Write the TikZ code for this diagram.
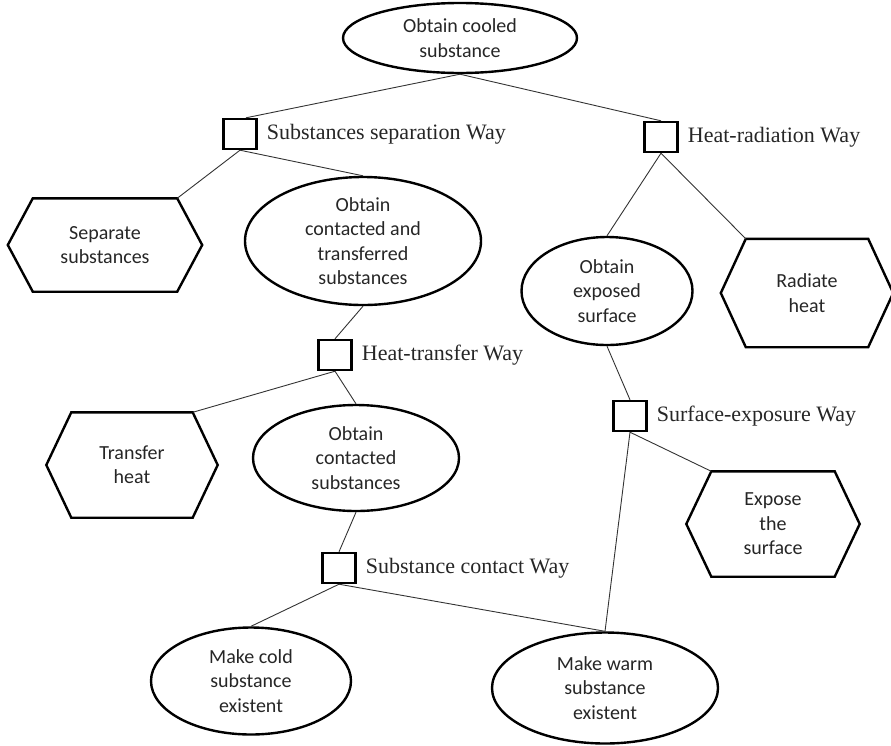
\documentclass[tikz,border=0pt]{standalone}
\usepackage{fontspec}
\setmainfont{Liberation Serif}
\newfontfamily\goalfont{Carlito}
\usepackage{tikz}
\usetikzlibrary{positioning}
\usetikzlibrary{shapes.geometric}

\tikzset{
  goal/.style={ellipse, draw, line width=2.4pt, inner sep=0pt, align=center,
               text=black!85, font=\goalfont\fontsize{20}{24.4}\selectfont},
  act/.style={rectangle, inner sep=0pt, align=center,
              text=black!85, font=\goalfont\fontsize{20}{24.4}\selectfont},
  way/.style={rectangle, draw, line width=2.4pt, minimum width=33pt, minimum height=30pt},
  waylbl/.style={inner sep=0pt, text=black!85, font=\fontsize{22}{26}\selectfont},
  link/.style={line width=0.9pt, black!80},
  hexline/.style={line width=2.4pt, line join=miter},
}

\begin{document}
\begin{tikzpicture}[x=1pt,y=-1pt]
\useasboundingbox (0,0) rectangle (891,745);
\node[goal, minimum width=234pt, minimum height=70pt] (cool) at (460,38) {Obtain cooled\\substance};
\node[way] (sepway) at (240,134) {};
\node[waylbl, right=9pt of sepway] (sepwaylbl) {Substances separation Way};
\node[way] (radway) at (661,137) {};
\node[waylbl, right=9pt of radway] (radwaylbl) {Heat-radiation Way};
% left branch
\node[act, minimum width=194pt, minimum height=93pt] (sep) at (105,245) {Separate\\substances};
\node[goal, minimum width=236pt, minimum height=128pt] (ctsub) at (363,241) {Obtain\\contacted and\\transferred\\substances};
\node[way] (heatway) at (335,355) {};
\node[waylbl, right=9pt of heatway] (heatwaylbl) {Heat-transfer Way};
\node[act, minimum width=171pt, minimum height=105pt] (heat) at (132,465) {Transfer\\heat};
\node[goal, minimum width=206pt, minimum height=106pt] (csub) at (356,458) {Obtain\\contacted\\substances};
\node[way] (contway) at (339,568) {};
\node[waylbl, right=9pt of contway] (contwaylbl) {Substance contact Way};
\node[goal, minimum width=200pt, minimum height=107pt] (cold) at (251,681) {Make cold\\substance\\existent};
\node[goal, minimum width=226pt, minimum height=111pt] (warm) at (605,688) {Make warm\\substance\\existent};
% right branch
\node[goal, minimum width=171pt, minimum height=108pt] (expsurf) at (607,291) {Obtain\\exposed\\surface};
\node[act, minimum width=172pt, minimum height=108pt] (rad) at (807,293) {Radiate\\heat};
\node[way] (surfway) at (630,416) {};
\node[waylbl, right=9pt of surfway] (surfwaylbl) {Surface-exposure Way};
\node[act, minimum width=173pt, minimum height=105pt] (expo) at (773,524) {Expose\\the\\surface};

\foreach \n in {sep,heat,rad,expo}
  \draw[hexline] (\n.west) -- ([xshift=25pt]\n.north west) -- ([xshift=-25pt]\n.north east)
    -- (\n.east) -- ([xshift=-25pt]\n.south east) -- ([xshift=25pt]\n.south west) -- cycle;

\draw[link] (cool.south) -- ([xshift=6pt]sepway.north);
\draw[link] (cool.south) -- (radway.north);
\draw[link] (sepway.south) -- ([xshift=-25pt]sep.north east);
\draw[link] (sepway.south) -- (ctsub.north);
\draw[link] (radway.south) -- (expsurf.north);
\draw[link] (radway.south) -- ([xshift=25pt]rad.north west);
\draw[link] (ctsub.south) -- (heatway.north);
\draw[link] (heatway.south) -- ([xshift=-25pt]heat.north east);
\draw[link] (heatway.south) -- (csub.north);
\draw[link] (csub.south) -- (contway.north);
\draw[link] (contway.south) -- (cold.north);
\draw[link] (contway.south) -- (warm.north);
\draw[link] (expsurf.south) -- (surfway.north);
\draw[link] (surfway.south) -- ([xshift=25pt]expo.north west);
\draw[link] (surfway.south) -- (warm.north);
\end{tikzpicture}
\end{document}
